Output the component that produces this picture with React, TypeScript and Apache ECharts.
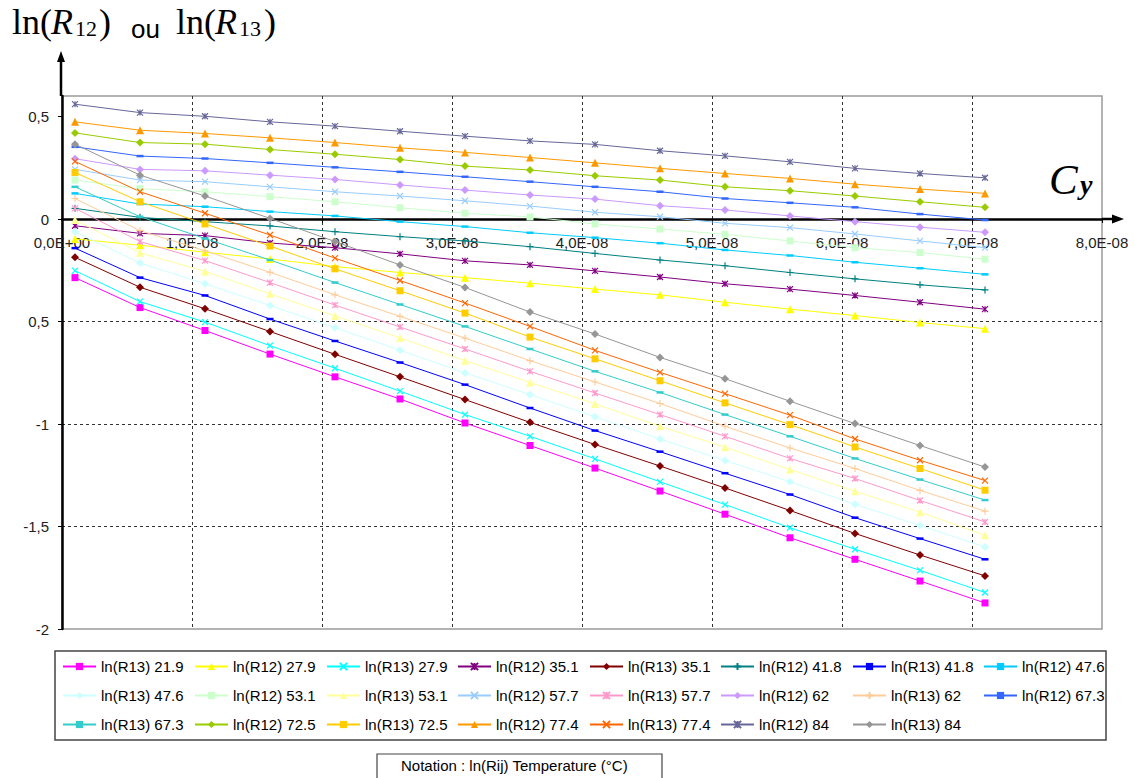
import React, { useEffect, useRef } from "react";
import * as echarts from "echarts";

// Cy values (x axis)
const cy = [1e-9, 6e-9, 1.1e-8, 1.6e-8, 2.1e-8, 2.6e-8, 3.1e-8, 3.6e-8, 4.1e-8, 4.6e-8, 5.1e-8, 5.6e-8, 6.1e-8, 6.6e-8, 7.1e-8];

const r13_219 = [-0.286, -0.432, -0.544, -0.659, -0.770, -0.878, -0.995, -1.105, -1.215, -1.327, -1.440, -1.555, -1.660, -1.766, -1.873];
const r12_279 = [-0.097, -0.128, -0.162, -0.195, -0.232, -0.261, -0.286, -0.313, -0.342, -0.370, -0.406, -0.440, -0.471, -0.505, -0.535];
const r13_279 = [-0.252, -0.403, -0.503, -0.618, -0.728, -0.840, -0.954, -1.060, -1.170, -1.282, -1.393, -1.506, -1.611, -1.714, -1.822];
const r12_351 = [-0.033, -0.070, -0.081, -0.117, -0.140, -0.170, -0.204, -0.224, -0.253, -0.283, -0.316, -0.342, -0.373, -0.406, -0.440];
const r13_351 = [-0.187, -0.333, -0.438, -0.549, -0.660, -0.770, -0.881, -0.992, -1.100, -1.205, -1.312, -1.422, -1.534, -1.639, -1.741];
const r12_418 = [0.052, 0.008, -0.013, -0.034, -0.062, -0.086, -0.107, -0.135, -0.168, -0.200, -0.228, -0.261, -0.292, -0.321, -0.346];
const r13_418 = [-0.142, -0.286, -0.373, -0.488, -0.595, -0.700, -0.808, -0.922, -1.032, -1.135, -1.240, -1.344, -1.457, -1.559, -1.660];
const r12_476 = [0.125, 0.073, 0.060, 0.036, 0.015, -0.013, -0.037, -0.067, -0.091, -0.118, -0.151, -0.178, -0.211, -0.240, -0.270];
const r13_476 = [-0.062, -0.215, -0.316, -0.422, -0.530, -0.640, -0.751, -0.857, -0.965, -1.073, -1.178, -1.282, -1.392, -1.495, -1.600];
const r12_531 = [0.190, 0.148, 0.133, 0.109, 0.084, 0.055, 0.028, 0.010, -0.024, -0.049, -0.075, -0.107, -0.140, -0.164, -0.196];
const r13_531 = [-0.005, -0.165, -0.256, -0.365, -0.473, -0.580, -0.691, -0.797, -0.902, -1.011, -1.113, -1.222, -1.328, -1.430, -1.543];
const r12_577 = [0.242, 0.190, 0.182, 0.157, 0.133, 0.112, 0.089, 0.063, 0.033, 0.011, -0.021, -0.042, -0.073, -0.107, -0.140];
const r13_577 = [0.052, -0.110, -0.203, -0.310, -0.420, -0.527, -0.634, -0.743, -0.849, -0.954, -1.060, -1.168, -1.266, -1.373, -1.478];
const r12_62 = [0.294, 0.242, 0.235, 0.214, 0.193, 0.166, 0.141, 0.117, 0.097, 0.065, 0.044, 0.015, -0.013, -0.040, -0.065];
const r13_62 = [0.100, -0.057, -0.155, -0.260, -0.370, -0.475, -0.581, -0.691, -0.795, -0.900, -1.011, -1.117, -1.217, -1.324, -1.425];
const r12_673 = [0.352, 0.307, 0.295, 0.274, 0.252, 0.230, 0.206, 0.182, 0.157, 0.133, 0.100, 0.079, 0.057, 0.024, -0.005];
const r13_673 = [0.157, 0.011, -0.095, -0.200, -0.310, -0.417, -0.524, -0.634, -0.743, -0.846, -0.954, -1.060, -1.168, -1.271, -1.371];
const r12_725 = [0.420, 0.373, 0.365, 0.339, 0.316, 0.290, 0.258, 0.239, 0.211, 0.190, 0.157, 0.138, 0.112, 0.084, 0.057];
const r13_725 = [0.227, 0.084, -0.024, -0.132, -0.243, -0.350, -0.459, -0.576, -0.682, -0.789, -0.897, -1.003, -1.112, -1.217, -1.323];
const r12_774 = [0.474, 0.433, 0.417, 0.396, 0.373, 0.347, 0.325, 0.300, 0.274, 0.247, 0.222, 0.198, 0.170, 0.146, 0.125];
const r13_774 = [0.281, 0.133, 0.028, -0.078, -0.191, -0.300, -0.410, -0.524, -0.641, -0.748, -0.852, -0.957, -1.073, -1.177, -1.276];
const r12_84 = [0.560, 0.519, 0.501, 0.474, 0.453, 0.428, 0.404, 0.381, 0.364, 0.333, 0.308, 0.279, 0.247, 0.222, 0.201];
const r13_84 = [0.365, 0.214, 0.112, 0.003, -0.110, -0.224, -0.334, -0.454, -0.561, -0.675, -0.779, -0.889, -0.998, -1.105, -1.210];

const seriesNames = [
  "ln(R13) 21.9", "ln(R12) 27.9", "ln(R13) 27.9", "ln(R12) 35.1", "ln(R13) 35.1", "ln(R12) 41.8", "ln(R13) 41.8", "ln(R12) 47.6",
  "ln(R13) 47.6", "ln(R12) 53.1", "ln(R13) 53.1", "ln(R12) 57.7", "ln(R13) 57.7", "ln(R12) 62", "ln(R13) 62", "ln(R12) 67.3",
  "ln(R13) 67.3", "ln(R12) 72.5", "ln(R13) 72.5", "ln(R12) 77.4", "ln(R13) 77.4", "ln(R12) 84", "ln(R13) 84",
];
const seriesValues = [
  r13_219, r12_279, r13_279, r12_351, r13_351, r12_418, r13_418, r12_476,
  r13_476, r12_531, r13_531, r12_577, r13_577, r12_62, r13_62, r12_673,
  r13_673, r12_725, r13_725, r12_774, r13_774, r12_84, r13_84,
];
const seriesColors = [
  "#FF00FF", "#FFFF00", "#00FFFF", "#800080", "#800000", "#008080", "#0000FF", "#00CCFF",
  "#CCFFFF", "#CCFFCC", "#FFFF99", "#99CCFF", "#FF99CC", "#CC99FF", "#FFCC99", "#3366FF",
  "#33CCCC", "#99CC00", "#FFCC00", "#FF9900", "#FF6600", "#666699", "#969696",
];
const seriesMarkers = [
  "square", "triangle", "x", "star", "diamond", "plus", "dash", "dash",
  "diamond", "square", "triangle", "x", "star", "diamond", "plus", "dash",
  "dash", "diamond", "square", "triangle", "x", "star", "diamond",
];

const xTickLabels = ["0,0E+00", "1,0E-08", "2,0E-08", "3,0E-08", "4,0E-08", "5,0E-08", "6,0E-08", "7,0E-08", "8,0E-08"];
const yTickValues = [-2, -1.5, -1, -0.5, 0, 0.5];
const yTickLabels = ["-2", "-1,5", "-1", "0,5", "0", "0,5"];

const markerDefs: Record<string, { symbol: string; size: any; stroke: boolean }> = {
  square: { symbol: "rect", size: 7, stroke: false },
  triangle: { symbol: "triangle", size: 8, stroke: false },
  diamond: { symbol: "diamond", size: 8, stroke: false },
  dash: { symbol: "rect", size: [7, 2.5], stroke: false },
  x: { symbol: "path://M0,0L10,10M10,0L0,10", size: 6, stroke: true },
  star: { symbol: "path://M0,0L10,10M10,0L0,10M5,0L5,10", size: 6, stroke: true },
  plus: { symbol: "path://M5,0L5,10M0,5L10,5", size: 7, stroke: true },
};

const legendCols = [62, 194, 326, 457, 589, 720, 852, 983];

const serif = "Liberation Serif";
const sans = "Liberation Sans";

export default function App() {
  const ref = useRef<HTMLDivElement>(null);
  useEffect(() => {
    document.body.style.margin = "0";
    const chart = echarts.init(ref.current!, null, { renderer: "svg" });
    const series = seriesNames.map((name, i) => {
      const m = markerDefs[seriesMarkers[i]];
      const c = seriesColors[i];
      return {
        name,
        type: "line",
        data: cy.map((x, j) => [x, seriesValues[i][j]]),
        symbol: m.symbol,
        symbolSize: m.size,
        showSymbol: true,
        lineStyle: { color: c, width: 1 },
        itemStyle: { color: c, borderColor: c, borderWidth: m.stroke ? 1.2 : 0 },
        emphasis: { disabled: true },
        z: 3,
      };
    });
    const legends = legendCols.map((left, col) => ({
      orient: "vertical",
      left,
      top: 659,
      padding: 0,
      itemGap: 14,
      itemWidth: 33,
      itemHeight: 9,
      selectedMode: false,
      data: seriesNames.filter((_, i) => i % 8 === col),
      textStyle: { fontFamily: sans, fontSize: 15, color: "#000", lineHeight: 15 },
    }));
    const axisFont = { fontFamily: sans, fontSize: 15, color: "#222" };
    chart.setOption({
      animation: false,
      backgroundColor: "#fff",
      grid: { left: 62, top: 96, width: 1040, height: 533, show: true, borderColor: "#9a9a9a", borderWidth: 1.5, backgroundColor: "transparent" },
      xAxis: {
        type: "value",
        position: "bottom",
        min: 0,
        max: 8e-8,
        interval: 1e-8,
        axisLine: { show: true, onZero: false, lineStyle: { color: "#000", width: 2.5 } },
        axisTick: { show: true, length: 4, lineStyle: { color: "#000" } },
        axisLabel: { ...axisFont, margin: 16, formatter: (v: number) => xTickLabels[Math.round(v / 1e-8)] ?? "" },
        splitLine: { show: true, showMinLine: false, showMaxLine: false, lineStyle: { color: "#333", type: [3, 3], width: 1 } },
      },
      yAxis: {
        type: "value",
        min: -2,
        max: 0.6,
        interval: 0.5,
        axisLine: { show: true, onZero: false, lineStyle: { color: "#000", width: 2.5 } },
        axisTick: { show: true, length: 4, customValues: yTickValues, lineStyle: { color: "#000" } },
        axisLabel: {
          ...axisFont,
          margin: 13,
          customValues: yTickValues,
          formatter: (v: number) => {
            const k = yTickValues.findIndex((t) => Math.abs(t - v) < 1e-6);
            return k >= 0 ? yTickLabels[k] : "";
          },
        },
        splitLine: { show: true, showMinLine: false, showMaxLine: false, lineStyle: { color: "#333", type: [3, 3], width: 1 } },
      },
      legend: legends,
      series,
    });

    const p0 = chart.convertToPixel({ gridIndex: 0 }, [0, 0]) as number[];
    const pB = chart.convertToPixel({ gridIndex: 0 }, [0, -2]) as number[];
    const pR = chart.convertToPixel({ gridIndex: 0 }, [8e-8, 0]) as number[];
    const pT = chart.convertToPixel({ gridIndex: 0 }, [0, 0.6]) as number[];
    const ax = pT[0] - 1;
    const big = (text: string, x: number, italic = false) => ({
      type: "text", z: 100, x, y: 22,
      style: { text, fontFamily: serif, fontStyle: italic ? "italic" : "normal", fontSize: 36, fill: "#000", verticalAlign: "middle" },
    });
    const sub = (text: string, x: number) => ({
      type: "text", z: 100, x, y: 28,
      style: { text, fontFamily: serif, fontSize: 22, fill: "#000", verticalAlign: "middle" },
    });
    chart.setOption({
      xAxis: { offset: -(pB[1] - p0[1]) },
      graphic: [
        { type: "line", z: 100, shape: { x1: pR[0], y1: pR[1], x2: pR[0] + 12, y2: pR[1] }, style: { stroke: "#000", lineWidth: 2.5 } },
        { type: "polygon", z: 100, shape: { points: [[pR[0] + 22, pR[1]], [pR[0] + 10, pR[1] - 4.5], [pR[0] + 10, pR[1] + 4.5]] }, style: { fill: "#000" } },
        { type: "line", z: 100, shape: { x1: ax, y1: pT[1], x2: ax, y2: pT[1] - 36 }, style: { stroke: "#000", lineWidth: 2.5 } },
        { type: "polygon", z: 100, shape: { points: [[ax, pT[1] - 45], [ax - 4, pT[1] - 34], [ax + 4, pT[1] - 34]] }, style: { fill: "#000" } },
        // title pieces
        big("ln(", 12),
        big("R", 51, true),
        sub("12", 75),
        big(")", 99),
        { type: "text", z: 100, x: 131, y: 29, style: { text: "ou", fontFamily: sans, fontSize: 26, fill: "#000", verticalAlign: "middle" } },
        big("ln(", 176),
        big("R", 215, true),
        sub("13", 239),
        big(")", 264),
        // Cy
        { type: "text", z: 100, x: 1049, y: 179, style: { text: "C", fontFamily: serif, fontStyle: "italic", fontSize: 43, fill: "#000", verticalAlign: "middle" } },
        { type: "text", z: 100, x: 1080, y: 184, style: { text: "y", fontFamily: serif, fontStyle: "italic", fontWeight: "bold", fontSize: 28, fill: "#000", verticalAlign: "middle" } },
        // legend frame
        { type: "rect", z: 1, shape: { x: 55, y: 651, width: 1051, height: 89 }, style: { fill: "none", stroke: "#444", lineWidth: 1.5 } },
        // notation box
        { type: "rect", z: 1, shape: { x: 377, y: 754, width: 285, height: 40 }, style: { fill: "#fff", stroke: "#444", lineWidth: 1.2 } },
        { type: "text", z: 2, x: 401, y: 765, style: { text: "Notation : ln(Rij) Temperature (°C)", fontFamily: sans, fontSize: 15, fill: "#000", verticalAlign: "middle" } },
      ],
    });
    return () => chart.dispose();
  }, []);
  return <div ref={ref} style={{ position: "fixed", left: 0, top: 0, width: 1134, height: 778, background: "#fff" }} />;
}
